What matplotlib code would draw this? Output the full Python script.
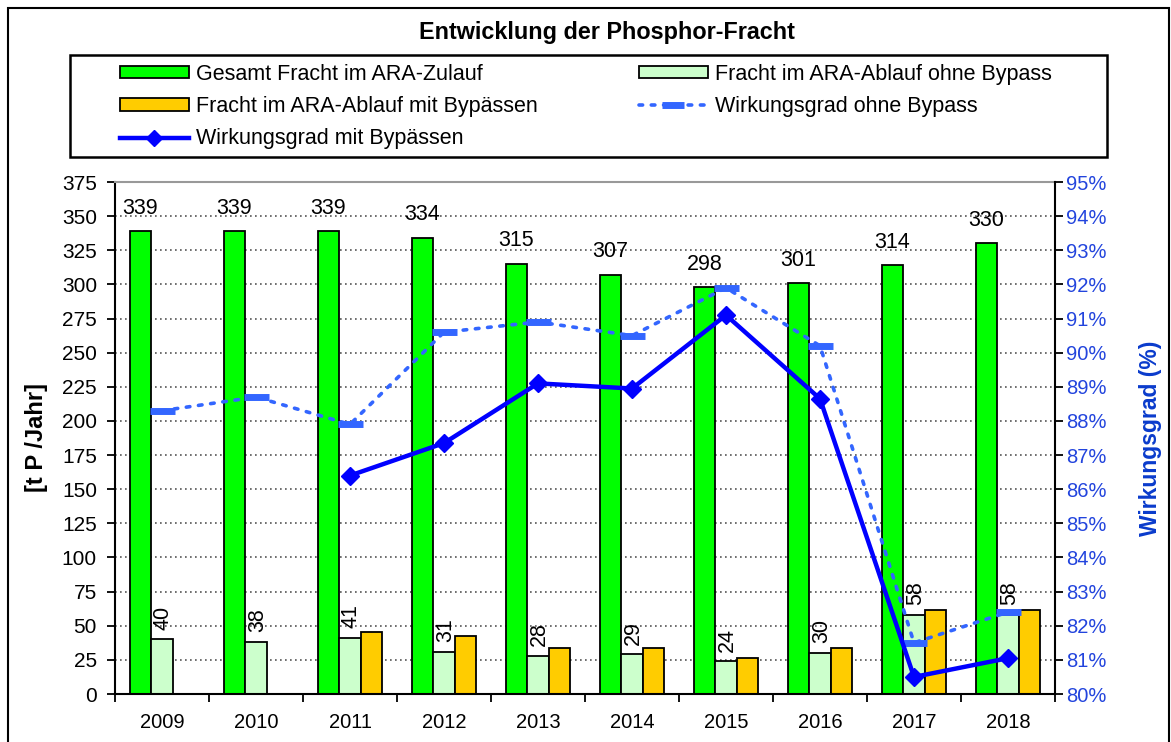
import numpy as np
import matplotlib
matplotlib.use("Agg")
import matplotlib.pyplot as plt
from matplotlib.lines import Line2D
from matplotlib.patches import Patch, Rectangle
from matplotlib.ticker import FuncFormatter

plt.rcParams['font.family'] = ['Liberation Sans', 'DejaVu Sans']

# Data
years = ['2009', '2010', '2011', '2012', '2013', '2014', '2015', '2016', '2017', '2018']
zulauf = [339, 339, 339, 334, 315, 307, 298, 301, 314, 330]
ablauf_ohne = [40, 38, 41, 31, 28, 29, 24, 30, 58, 58]
ablauf_mit = [np.nan, np.nan, 45.5, 42.5, 33.7, 33.7, 26.3, 33.7, 61.7, 61.7]
wg_ohne = [88.3, 88.7, 87.9, 90.6, 90.9, 90.5, 91.9, 90.2, 81.5, 82.4]
wg_mit = [np.nan, np.nan, 86.4, 87.35, 89.1, 88.95, 91.1, 88.65, 80.5, 81.05]

W, H = 1171, 742
fig = plt.figure(figsize=(W / 100, H / 100), dpi=100)

# outer frame
fig.add_artist(Rectangle((8 / W, -0.01), (1169 - 8) / W, 1 - 8 / H + 0.01,
                         transform=fig.transFigure, fill=False, ec='black', lw=1.5))

fig.text(607 / W, 1 - 32 / H, 'Entwicklung der Phosphor-Fracht', ha='center', va='center',
         fontsize=16.8, fontweight='bold')

ax = fig.add_axes([115 / W, 1 - 694 / H, 940 / W, 512 / H])
x = np.arange(len(years))
bw = 0.23

c_green = '#00ff00'
c_light = '#ccffcc'
c_orange = '#ffcc00'
c_wg_ohne = '#3366ff'
c_wg_mit = '#0000ff'

ax.bar(x - bw, zulauf, bw, color=c_green, edgecolor='black', lw=1.3, zorder=2)
ax.bar(x, ablauf_ohne, bw, color=c_light, edgecolor='black', lw=1.3, zorder=2)
mit = np.array(ablauf_mit)
mask = ~np.isnan(mit)
ax.bar(x[mask] + bw, mit[mask], bw, color=c_orange, edgecolor='black', lw=1.3, zorder=2)

for i in range(len(years)):
    ax.annotate(str(zulauf[i]), (x[i] - bw, zulauf[i]), xytext=(0, 9),
                textcoords='offset points', ha='center', va='bottom', fontsize=15.5)
    ax.annotate(str(ablauf_ohne[i]), (x[i], ablauf_ohne[i]), xytext=(1, 7),
                textcoords='offset points', ha='center', va='bottom', rotation=90,
                fontsize=15.5)

ax.set_xlim(-0.5, len(years) - 0.5)
ax.set_ylim(0, 375)
ax.set_yticks(np.arange(0, 376, 25))
ax.set_xticks(np.arange(-0.5, len(years), 1))
ax.set_xticklabels([])
ax.set_xticks(x, minor=True)
ax.set_xticklabels(years, minor=True)
ax.tick_params(axis='x', which='major', length=6, width=1.3, direction='out')
ax.tick_params(axis='x', which='minor', length=0, pad=14, labelsize=14.5)
ax.tick_params(axis='y', length=6, width=1.3, direction='out', labelsize=15, pad=7)
ax.yaxis.grid(True, linestyle=(0, (1, 2)), color='#555555', lw=1.2)
ax.set_axisbelow(True)
for s in ['left', 'bottom']:
    ax.spines[s].set_linewidth(1.5)
ax.spines['top'].set_color('#999999')
ax.spines['top'].set_linewidth(1.5)
ax.spines['right'].set_visible(False)
ax.set_ylabel('[t P /Jahr]', fontsize=17, fontweight='bold')
ax.yaxis.set_label_coords((48 - 115) / 940, 0.5)

ax2 = ax.twinx()
ax2.set_ylim(80, 95)
ax2.set_yticks(np.arange(80, 96, 1))
ax2.yaxis.set_major_formatter(FuncFormatter(lambda v, p: f'{v:.0f}%'))
ax2.tick_params(axis='y', length=6, width=1.3, direction='out', labelsize=14.5,
                labelcolor='#2244dd', pad=2)
ax2.spines['right'].set_linewidth(1.5)
ax2.spines['left'].set_visible(False)
ax2.spines['top'].set_visible(False)
ax2.spines['bottom'].set_visible(False)
ax2.set_ylabel('Wirkungsgrad (%)', fontsize=16.5, fontweight='bold', color='#0a3bcc')
ax2.yaxis.set_label_coords((1139 - 115) / 940, 0.5)

ax2.plot(x, wg_ohne, linestyle=(0, (1, 2.4)), color=c_wg_ohne, lw=2.6,
         marker='_', ms=18, mew=5, dash_capstyle='round')
ax2.plot(x, wg_mit, '-', color=c_wg_mit, lw=3.2, marker='D', ms=9)

h_green = Patch(facecolor=c_green, edgecolor='black', lw=1.3)
h_light = Patch(facecolor=c_light, edgecolor='black', lw=1.3)
h_orange = Patch(facecolor=c_orange, edgecolor='black', lw=1.3)
h_ohne = Line2D([], [], linestyle=(0, (1, 2.4)), color=c_wg_ohne, lw=2.6,
                marker='_', ms=16, mew=5, dash_capstyle='round')
h_mit = Line2D([], [], color=c_wg_mit, lw=3.2, marker='D', ms=8)

leg_kw = dict(frameon=False, fontsize=15.5, handlelength=3.2, handleheight=0.5,
              handletextpad=0.35, labelspacing=0.52, borderpad=0, borderaxespad=0,
              loc='upper left')
fig.legend([h_green, h_orange, h_mit],
           ['Gesamt Fracht im ARA-Zulauf', 'Fracht im ARA-Ablauf mit Bypässen',
            'Wirkungsgrad mit Bypässen'],
           bbox_to_anchor=(120 / W, 1 - 64 / H), **leg_kw)
fig.legend([h_light, h_ohne],
           ['Fracht im ARA-Ablauf ohne Bypass', 'Wirkungsgrad ohne Bypass'],
           bbox_to_anchor=(639 / W, 1 - 64 / H), **leg_kw)
fig.add_artist(Rectangle((70 / W, 1 - 157 / H), (1107 - 70) / W, (157 - 55) / H,
                         transform=fig.transFigure, fill=False, ec='black', lw=1.8))

fig.savefig('out.png', dpi=100)
